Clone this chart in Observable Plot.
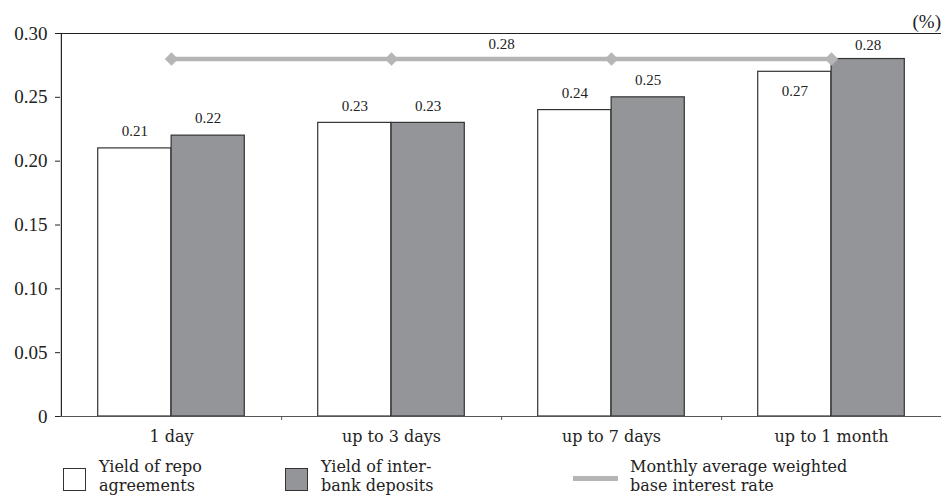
<!DOCTYPE html>
<html>
<head>
<meta charset="utf-8">
<script src="https://cdn.jsdelivr.net/npm/d3@7"></script>
<script src="https://cdn.jsdelivr.net/npm/@observablehq/plot@0.6"></script>
<style>
  body { margin: 0; background: #fff; font-family: "Liberation Serif", "DejaVu Serif", serif; }
  #wrap { position: relative; width: 941px; height: 495px; overflow: hidden; }
  #unit { position: absolute; right: 0px; top: 11px; font-size: 19px; color: #222; }
  .leg { position: absolute; top: 458px; display: flex; align-items: flex-start; font-family: "DejaVu Serif", serif; font-size: 16px; line-height: 18.5px; color: #222; }
  .sw { width: 23px; height: 23px; border: 1px solid #333; margin-right: 13px; margin-top: 10px; box-sizing: border-box; }
  .ln { width: 45px; height: 5px; background: #b5b5b5; margin-right: 12px; margin-top: 18px; }
</style>
</head>
<body>
<div id="wrap">
  <div id="chart"></div>
  <div id="unit">(%)</div>
  <div class="leg" style="left:63px"><div class="sw" style="background:#fff"></div><div>Yield of repo<br>agreements</div></div>
  <div class="leg" style="left:285px"><div class="sw" style="background:#939598"></div><div>Yield of inter-<br>bank deposits</div></div>
  <div class="leg" style="left:573px"><div class="ln"></div><div>Monthly average weighted<br>base interest rate</div></div>
</div>
<script>
const categories = ["1 day", "up to 3 days", "up to 7 days", "up to 1 month"];
const repoYield = [0.21, 0.23, 0.24, 0.27];
const interbankYield = [0.22, 0.23, 0.25, 0.28];
const baseRate = [0.28, 0.28, 0.28, 0.28];
const yTicks = [0, 0.05, 0.10, 0.15, 0.20, 0.25, 0.30];

const repo = categories.map((c, i) => ({cat: c, v: repoYield[i], i}));
const inter = categories.map((c, i) => ({cat: c, v: interbankYield[i], i}));
const base = categories.map((c, i) => ({cat: c, v: baseRate[i], i}));

const W = 941, ML = 60, MR = 0;
const step = (W - ML - MR) / categories.length;
const half = step / 2;
const barW = step / 3;
const outer = (step - 2 * barW) / 2;
const fmt = d => d.toFixed(2);

const chart = Plot.plot({
  width: W,
  height: 450,
  marginLeft: ML,
  marginRight: MR,
  marginTop: 33,
  marginBottom: 34,
  style: { fontFamily: '"Liberation Serif", "DejaVu Serif", serif', fontSize: "19px", color: "#222", background: "#fff" },
  x: { type: "band", domain: categories, padding: 0, axis: null, label: null },
  y: { domain: [0, 0.30], axis: null, label: null },
  marks: [
    Plot.barY(repo, { x: "cat", y: "v", fill: "#ffffff", stroke: "#333", strokeWidth: 1.2, insetLeft: outer, insetRight: outer + barW }),
    Plot.barY(inter, { x: "cat", y: "v", fill: "#939598", stroke: "#333", strokeWidth: 1.2, insetLeft: outer + barW, insetRight: outer }),
    Plot.ruleY([0], { stroke: "#555", strokeWidth: 1.2 }),
    Plot.ruleY([0.30], { stroke: "#222", strokeWidth: 1.2 }),
    Plot.ruleX([categories[0]], { y1: 0, y2: 0.30, dx: -half, stroke: "#222", strokeWidth: 1.2 }),
    Plot.lineY(base, { x: "cat", y: "v", stroke: "#b5b5b5", strokeWidth: 4.5 }),
    Plot.dot(base, { x: "cat", y: "v", symbol: "diamond2", r: 6, fill: "#b5b5b5", stroke: "none" }),
    Plot.text(base.filter(d => d.i === 1), { x: "cat", y: "v", text: d => fmt(d.v), dx: half, dy: -15, fontSize: 15 }),
    Plot.text(repo.filter(d => d.i < 3), { x: "cat", y: "v", text: d => fmt(d.v), dx: -barW / 2, dy: -17, fontSize: 15 }),
    Plot.text(repo.filter(d => d.i === 3), { x: "cat", y: "v", text: d => fmt(d.v), dx: -barW / 2, dy: 19, fontSize: 15 }),
    Plot.text(inter.filter(d => d.i < 3), { x: "cat", y: "v", text: d => fmt(d.v), dx: barW / 2, dy: -17, fontSize: 15 }),
    Plot.text(inter.filter(d => d.i === 3), { x: "cat", y: "v", text: d => fmt(d.v), dx: barW / 2, dy: -14, fontSize: 15 }),
    Plot.axisY({ ticks: yTicks, tickFormat: d => d === 0 ? "0" : fmt(d), tickSize: 5, tickPadding: 8, fontSize: 19, label: null }),
    Plot.axisX({ tickSize: 4, tickFormat: () => "", dx: half, stroke: "#555", label: null }),
    Plot.axisX({ tickSize: 0, tickPadding: 14, fontSize: 16, fontFamily: '"DejaVu Serif", serif', label: null })
  ]
});
document.getElementById("chart").appendChild(chart);
</script>
</body>
</html>
